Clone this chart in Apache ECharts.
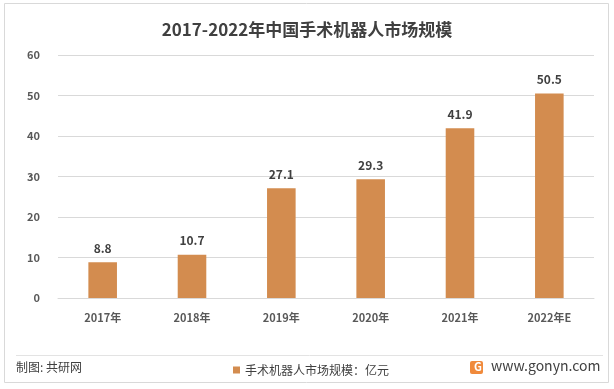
<!DOCTYPE html>
<html><head><meta charset="utf-8">
<script src="https://cdn.jsdelivr.net/npm/echarts@6/dist/echarts.min.js"></script>
<style>html,body{margin:0;padding:0;background:#fff}#c{width:614px;height:389px}</style>
</head><body><div id="c"></div>
<script>
const categories = ['2017年','2018年','2019年','2020年','2021年','2022年E'];
const values = [8.8, 10.7, 27.1, 29.3, 41.9, 50.5];
const yTicks = {min: 0, max: 60, interval: 10};
const seriesName = '手术机器人市场规模：亿元';
const titleText = '2017-2022年中国手术机器人市场规模';

const chart = echarts.init(document.getElementById('c'));
const ff = '"Microsoft YaHei","Noto Sans CJK SC","Noto Sans",sans-serif';
chart.setOption({
  animation: false,
  title: {text: titleText, left: 'center', top: 16,
    textStyle: {fontFamily: ff, fontSize: 17, fontWeight: 'bold', color: '#404040'}},
  grid: {left: 58, right: 20, top: 55, bottom: 91},
  legend: {data: [seriesName], left: 228, top: 359, itemWidth: 7, itemHeight: 7, itemGap: 3,
    icon: 'rect', textStyle: {fontFamily: ff, fontSize: 12, color: '#404040'}},
  xAxis: {type: 'category', data: categories,
    axisLine: {lineStyle: {color: '#d9d9d9'}}, axisTick: {show: false},
    axisLabel: {fontFamily: ff, fontSize: 11, fontWeight: 'bold', color: '#595959', margin: 14}},
  yAxis: {type: 'value', min: yTicks.min, max: yTicks.max, interval: yTicks.interval,
    axisLine: {show: false}, axisTick: {show: false},
    splitLine: {lineStyle: {color: '#d9d9d9'}},
    axisLabel: {fontFamily: ff, fontSize: 11, fontWeight: 'bold', color: '#595959', margin: 18}},
  series: [{name: seriesName, type: 'bar', data: values, barWidth: '32%',
    itemStyle: {color: '#D38C4F'},
    label: {show: true, position: 'top', distance: 8, fontFamily: ff, fontSize: 12,
      fontWeight: 'bold', color: '#404040'}}],
  graphic: [
    {type: 'rect', shape: {x: 4.5, y: 3.5, width: 604, height: 379},
      style: {fill: 'none', stroke: '#d9d9d9', lineWidth: 1}, silent: true},
    {type: 'line', shape: {x1: 16, y1: 355.5, x2: 603, y2: 355.5},
      style: {stroke: '#e3e3e3', lineWidth: 1}},
    {type: 'text', left: 16, top: 361,
      style: {text: '制图: 共研网', fontFamily: ff, fontSize: 12, fill: '#404040'}},
    {type: 'rect', shape: {x: 470, y: 361, width: 13, height: 13, r: 2},
      style: {fill: '#F08A3C'}},
    {type: 'text', left: 474, top: 361,
      style: {text: 'G', fontFamily: ff, fontSize: 11, fontWeight: 'bold', fill: '#fff'}},
    {type: 'text', left: 491, top: 359,
      style: {text: 'www.gonyn.com', fontFamily: ff, fontSize: 14, fill: '#404040'}}
  ]
});
</script></body></html>
